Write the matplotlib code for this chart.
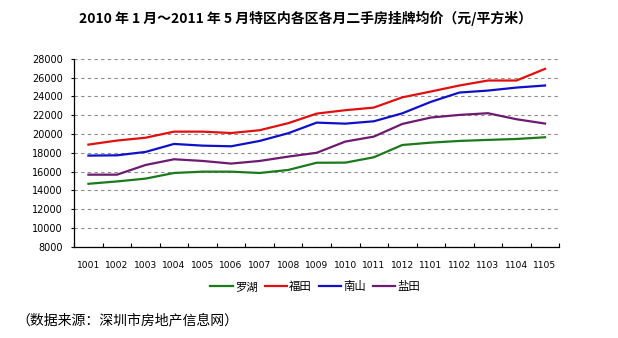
import numpy as np
import matplotlib
matplotlib.use("Agg")
import matplotlib.pyplot as plt
import matplotlib.ticker as ticker

plt.rcParams['font.family'] = ['Noto Sans CJK SC', 'DejaVu Sans']

# 月份 (yymm)
months = ["1001", "1002", "1003", "1004", "1005", "1006", "1007", "1008", "1009",
          "1010", "1011", "1012", "1101", "1102", "1103", "1104", "1105"]

# 各区二手房挂牌均价 (元/平方米)
luohu = [14700, 14950, 15250, 15850, 15990, 15990, 15850, 16170, 16940,
         16950, 17520, 18830, 19080, 19260, 19370, 19470, 19650]
futian = [18870, 19300, 19600, 20250, 20250, 20100, 20400, 21150, 22170,
          22530, 22810, 23900, 24520, 25160, 25690, 25690, 26930]
nanshan = [17700, 17730, 18090, 18940, 18760, 18690, 19260, 20080, 21210,
           21100, 21350, 22200, 23420, 24410, 24620, 24940, 25160]
yantian = [15670, 15670, 16700, 17310, 17130, 16850, 17130, 17590, 18000,
           19190, 19720, 21070, 21750, 22030, 22210, 21570, 21110]

series = [("罗湖", luohu, "#1b7a1b"),
          ("福田", futian, "#e01010"),
          ("南山", nanshan, "#1010c8"),
          ("盐田", yantian, "#6e1a70")]

fig = plt.figure(figsize=(6.18, 3.38), dpi=100)
ax = fig.add_axes([0.120, 0.270, 0.785, 0.556])

x = np.arange(len(months))
for name, vals, col in series:
    ax.plot(x, vals, color=col, lw=1.6, label=name, solid_joinstyle='round')

ax.set_xlim(-0.5, len(months) - 0.5)
ax.set_ylim(8000, 28000)
ax.yaxis.set_major_locator(ticker.MultipleLocator(2000))
ax.set_xticks(x)
ax.set_xticklabels(months, fontsize=6.6, family=['DejaVu Sans'])
ax.set_xticks(np.arange(-0.5, len(months)), minor=True)
ax.tick_params(axis='x', which='major', length=0, pad=10)
ax.tick_params(axis='x', which='minor', length=3, direction='in', width=0.8)
ax.tick_params(axis='y', length=2, width=0.8, labelsize=7, pad=6)
for lbl in ax.get_yticklabels():
    lbl.set_family(['DejaVu Sans'])

ax.grid(axis='y', color='#8c8c8c', linestyle=(0, (3, 3)), linewidth=0.8)
ax.set_axisbelow(True)
for s in ['top', 'right']:
    ax.spines[s].set_visible(False)
ax.spines['left'].set_linewidth(0.9)
ax.spines['bottom'].set_linewidth(0.9)

fig.text(0.495, 0.945, "2010 年 1 月～2011 年 5 月特区内各区各月二手房挂牌均价（元/平方米）",
         ha='center', va='center', fontsize=10, fontweight='bold')

fig.legend(loc='center', bbox_to_anchor=(0.51, 0.151), ncol=4, frameon=False,
           fontsize=8.2, handlelength=1.95, handletextpad=0.2, columnspacing=0.6)

fig.text(0.026, 0.053, "（数据来源：深圳市房地产信息网）", ha='left', va='center', fontsize=10)

fig.savefig("out.png", dpi=100)
